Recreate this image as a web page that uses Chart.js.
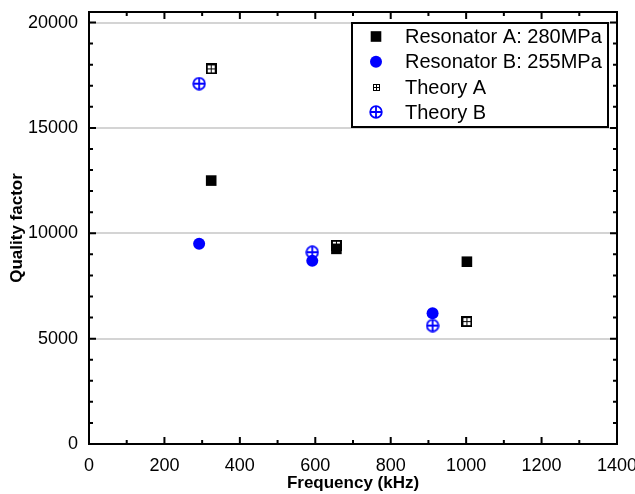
<!DOCTYPE html>
<html>
<head>
<meta charset="utf-8">
<script src="https://cdn.jsdelivr.net/npm/chart.js@4/dist/chart.umd.min.js"></script>
<style>
  html, body { margin: 0; padding: 0; background: #fff; }
</style>
</head>
<body>
<canvas id="myChart" width="635" height="494"></canvas>
<script>
// values
const resonatorAFreq = [324, 656, 1002];
const resonatorAQ = [12500, 9260, 8650];
const resonatorBFreq = [292, 592, 911];
const resonatorBQ = [9500, 8690, 6200];
const theoryAFreq = [324, 656, 1002];
const theoryAQ = [17800, 9430, 5810];
const theoryBFreq = [292, 592, 911];
const theoryBQ = [17100, 9100, 5620];
const seriesLabels = ["Resonator A: 280MPa", "Resonator B: 255MPa", "Theory A", "Theory B"];
const xTickValues = [0, 200, 400, 600, 800, 1000, 1200, 1400];
const yTickValues = [0, 5000, 10000, 15000, 20000];

const BLUE = "#0000ff";
const FONT = "'Liberation Sans', Arial, sans-serif";

const toPoints = (xs, ys) => xs.map((x, i) => ({ x, y: ys[i] }));

// square with a cross in it
function gridSquare(size, border) {
  const c = document.createElement("canvas");
  c.width = size;
  c.height = size;
  const g = c.getContext("2d");
  g.fillStyle = "#000";
  g.fillRect(0, 0, size, size);
  g.fillStyle = "#fff";
  const cell = (size - 2 * border - 1) / 2;
  for (const ox of [border, border + cell + 1]) {
    for (const oy of [border, border + cell + 1]) g.fillRect(ox, oy, cell, cell);
  }
  return c;
}

// circle with a plus in it
function circlePlus(size, color) {
  const c = document.createElement("canvas");
  c.width = size;
  c.height = size;
  const g = c.getContext("2d");
  const m = size / 2, r = size / 2 - 1.2;
  g.strokeStyle = color;
  g.lineWidth = 1.8;
  g.beginPath();
  g.arc(m, m, r, 0, Math.PI * 2);
  g.moveTo(m, m - r);
  g.lineTo(m, m + r);
  g.moveTo(m - r, m);
  g.lineTo(m + r, m);
  g.stroke();
  return c;
}

const theoryAImg = gridSquare(11, 2);
const theoryALegendImg = gridSquare(7, 1);
const theoryBImg = circlePlus(14, BLUE);

function drawMarker(ctx, ds, x, y, legendImg) {
  const style = legendImg || ds.pointStyle;
  if (style instanceof HTMLCanvasElement) {
    ctx.drawImage(style, Math.round(x - style.width / 2), Math.round(y - style.height / 2));
    return;
  }
  ctx.fillStyle = ds.backgroundColor;
  if (style === "rect") {
    const s = ds.pointRadius * Math.SQRT1_2;
    ctx.fillRect(x - s, y - s, 2 * s, 2 * s);
  } else {
    ctx.beginPath();
    ctx.arc(x, y, ds.pointRadius, 0, Math.PI * 2);
    ctx.fill();
  }
}

// box, inward ticks on all four sides, and the framed legend
const frameAndLegend = {
  id: "frameAndLegend",
  afterDraw(chart) {
    const { ctx, chartArea: a, scales: { x, y } } = chart;
    ctx.save();
    ctx.strokeStyle = "#000";
    ctx.lineWidth = 2;
    ctx.beginPath();
    for (let v = x.min; v <= x.max; v += 100) {
      const px = x.getPixelForValue(v);
      const len = v % 200 === 0 ? 7 : 4;
      ctx.moveTo(px, a.bottom); ctx.lineTo(px, a.bottom - len);
      ctx.moveTo(px, a.top); ctx.lineTo(px, a.top + len);
    }
    for (let v = y.min; v <= y.max; v += 1000) {
      const py = y.getPixelForValue(v);
      const len = v % 5000 === 0 ? 7 : 4;
      ctx.moveTo(a.left, py); ctx.lineTo(a.left + len, py);
      ctx.moveTo(a.right, py); ctx.lineTo(a.right - len, py);
    }
    ctx.stroke();
    ctx.strokeRect(a.left, a.top, a.right - a.left, a.bottom - a.top);

    // legend
    const bx = a.right - 265, by = a.top + 11, bw = 256, bh = 104;
    ctx.fillStyle = "#fff";
    ctx.fillRect(bx, by, bw, bh);
    ctx.strokeRect(bx, by, bw, bh);
    ctx.font = "20px " + FONT;
    ctx.textBaseline = "middle";
    chart.data.datasets.forEach((ds, i) => {
      const ry = by + 13.5 + i * 25.3;
      drawMarker(ctx, ds, bx + 24, ry, i === 2 ? theoryALegendImg : null);
      ctx.fillStyle = "#000";
      ctx.fillText(ds.label, bx + 53, ry + 1);
    });
    ctx.restore();
  },
};

const fixedTicks = (values) => (scale) => {
  scale.ticks = values.map((value) => ({ value }));
};

new Chart(document.getElementById("myChart"), {
  type: "scatter",
  data: {
    datasets: [
      {
        label: seriesLabels[0],
        data: toPoints(resonatorAFreq, resonatorAQ),
        pointStyle: "rect",
        pointRadius: 7.5,
        backgroundColor: "#000",
        borderWidth: 0,
      },
      {
        label: seriesLabels[1],
        data: toPoints(resonatorBFreq, resonatorBQ),
        pointStyle: "circle",
        pointRadius: 6,
        backgroundColor: BLUE,
        borderWidth: 0,
      },
      {
        label: seriesLabels[2],
        data: toPoints(theoryAFreq, theoryAQ),
        pointStyle: theoryAImg,
        pointRadius: 6,
      },
      {
        label: seriesLabels[3],
        data: toPoints(theoryBFreq, theoryBQ),
        pointStyle: theoryBImg,
        pointRadius: 6,
      },
    ],
  },
  options: {
    responsive: false,
    animation: false,
    events: [],
    layout: { padding: { top: 12, right: 18, bottom: 0, left: 0 } },
    plugins: {
      legend: { display: false },
      tooltip: { enabled: false },
    },
    scales: {
      x: {
        type: "linear",
        min: 0,
        max: 1400,
        afterBuildTicks: fixedTicks(xTickValues),
        ticks: {
          padding: 11,
          color: "#000",
          font: { family: FONT, size: 18 },
          callback: (v) => String(v),
        },
        grid: { display: false, drawTicks: false },
        border: { display: false },
        title: {
          display: true,
          text: "Frequency (kHz)",
          color: "#000",
          font: { family: FONT, size: 17, weight: "bold" },
          padding: { top: 0, bottom: 0 },
        },
        afterFit(scale) {
          scale.height = 50;
          scale.paddingLeft = 0;
          scale.paddingRight = 0;
        },
      },
      y: {
        type: "linear",
        min: 0,
        max: 20500,
        afterBuildTicks: fixedTicks(yTickValues),
        ticks: {
          padding: 11,
          color: "#000",
          font: { family: FONT, size: 18 },
          callback: (v) => String(v),
        },
        grid: { color: "#d4d4d4", lineWidth: 2, drawTicks: false },
        border: { display: false },
        title: {
          display: true,
          text: "Quality factor",
          color: "#000",
          font: { family: FONT, size: 17, weight: "bold" },
          padding: { top: 7, bottom: 0 },
        },
        afterFit(scale) {
          scale.width = 89;
          scale.paddingTop = 0;
          scale.paddingBottom = 0;
        },
      },
    },
  },
  plugins: [frameAndLegend],
});
</script>
</body>
</html>
